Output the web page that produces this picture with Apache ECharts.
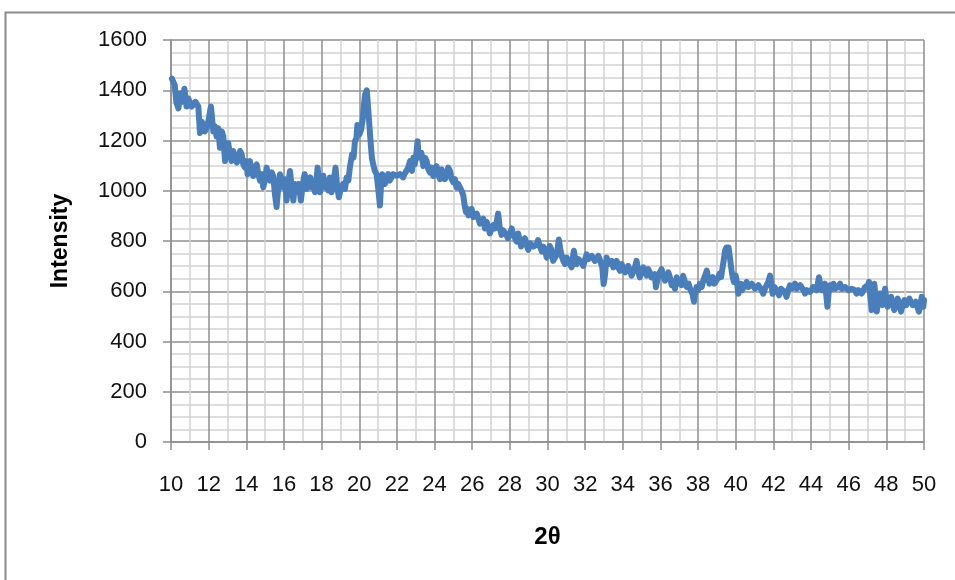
<!DOCTYPE html>
<html>
<head>
<meta charset="utf-8">
<script src="https://cdn.jsdelivr.net/npm/echarts@6/dist/echarts.min.js"></script>
<style>
  html, body { margin: 0; padding: 0; background: #ffffff; }
  #chart { width: 955px; height: 580px; }
</style>
</head>
<body>
<div id="chart"></div>
<script>
// XRD scan: diffraction angle 2θ (degrees) and counted intensity
const twoTheta = [
  10.05,10.12,10.2,10.28,10.39,10.5,10.6,10.71,10.83,10.92,11.01,11.1,11.19,11.3,11.45,11.54,11.63,11.72,11.8,11.89,
  12.0,12.12,12.25,12.33,12.42,12.51,12.6,12.7,12.78,12.87,12.95,13.04,13.13,13.22,13.31,13.4,13.5,13.58,13.67,13.75,
  13.84,13.93,14.0,14.07,14.19,14.28,14.37,14.46,14.55,14.64,14.73,14.82,14.9,15.0,15.08,15.17,15.26,15.35,15.43,15.52,
  15.61,15.7,15.79,15.88,15.96,16.05,16.14,16.23,16.32,16.41,16.5,16.58,16.67,16.78,16.9,17.0,17.1,17.2,17.3,17.4,
  17.47,17.56,17.65,17.72,17.79,17.91,18.0,18.09,18.18,18.27,18.36,18.44,18.53,18.62,18.74,18.83,18.92,19.03,19.15,19.24,
  19.33,19.42,19.5,19.62,19.7,19.77,19.85,19.9,20.0,20.1,20.18,20.25,20.3,20.4,20.45,20.5,20.6,20.67,20.74,20.83,
  20.92,21.0,21.1,21.16,21.22,21.3,21.36,21.45,21.54,21.62,21.7,21.8,21.9,22.0,22.07,22.16,22.25,22.33,22.4,22.5,
  22.6,22.7,22.8,22.88,22.95,23.03,23.1,23.16,23.23,23.3,23.4,23.5,23.58,23.67,23.76,23.85,23.93,24.02,24.1,24.2,
  24.29,24.38,24.46,24.55,24.64,24.73,24.82,24.91,25.0,25.08,25.17,25.26,25.35,25.44,25.53,25.6,25.67,25.73,25.8,25.88,
  25.97,26.06,26.15,26.24,26.32,26.41,26.5,26.59,26.68,26.77,26.85,26.94,27.03,27.12,27.2,27.3,27.38,27.47,27.56,27.64,
  27.73,27.82,27.9,28.0,28.1,28.18,28.27,28.36,28.44,28.52,28.6,28.7,28.8,28.89,28.98,29.06,29.15,29.24,29.33,29.42,
  29.5,29.6,29.7,29.78,29.87,29.96,30.04,30.12,30.2,30.3,30.4,30.5,30.6,30.68,30.75,30.84,30.93,31.02,31.1,31.19,
  31.28,31.35,31.4,31.48,31.55,31.64,31.73,31.82,31.9,32.0,32.08,32.17,32.26,32.35,32.43,32.52,32.6,32.7,32.79,32.86,
  32.91,32.98,33.05,33.14,33.23,33.32,33.41,33.5,33.58,33.67,33.76,33.85,33.94,34.03,34.12,34.2,34.29,34.38,34.47,34.56,
  34.64,34.73,34.82,34.9,35.0,35.09,35.18,35.27,35.35,35.44,35.53,35.62,35.7,35.76,35.88,35.97,36.06,36.15,36.24,36.33,
  36.42,36.5,36.6,36.68,36.77,36.86,36.95,37.04,37.12,37.2,37.3,37.4,37.5,37.6,37.7,37.78,37.85,37.92,38.0,38.1,
  38.19,38.28,38.37,38.46,38.53,38.6,38.68,38.77,38.86,38.95,39.04,39.13,39.22,39.3,39.37,39.43,39.5,39.55,39.62,39.7,
  39.78,39.84,39.9,40.0,40.07,40.14,40.2,40.26,40.33,40.4,40.49,40.58,40.67,40.76,40.85,40.93,41.02,41.1,41.2,41.29,
  41.38,41.46,41.55,41.64,41.73,41.82,41.89,41.96,42.05,42.14,42.22,42.3,42.4,42.5,42.6,42.7,42.79,42.88,42.97,43.05,
  43.15,43.24,43.33,43.42,43.5,43.6,43.68,43.77,43.86,43.95,44.04,44.12,44.2,44.3,44.42,44.5,44.57,44.66,44.74,44.8,
  44.87,44.93,45.0,45.1,45.19,45.28,45.36,45.45,45.54,45.63,45.72,45.81,45.9,45.98,46.07,46.16,46.25,46.33,46.42,46.51,
  46.6,46.69,46.78,46.87,46.96,47.02,47.08,47.15,47.22,47.29,47.36,47.43,47.49,47.57,47.66,47.72,47.79,47.86,47.93,48.0,
  48.07,48.16,48.25,48.33,48.42,48.51,48.6,48.69,48.78,48.87,48.96,49.05,49.13,49.22,49.3,49.4,49.49,49.56,49.63,49.73,
  49.8,49.88,49.96,50.0
];

const intensity = [
  1446,1440,1420,1354,1328,1387,1354,1406,1335,1367,1374,1335,1328,1354,1335,1230,1275,1262,1236,1249,
  1282,1335,1236,1256,1216,1249,1171,1236,1216,1118,1171,1190,1145,1118,1158,1151,1112,1125,1158,1145,
  1105,1092,1118,1066,1118,1079,1059,1092,1105,1066,1040,1066,1014,1046,1092,1053,1040,1073,1059,987,
  935,1014,1066,1040,1014,1046,961,1027,1079,1014,961,1027,1014,1027,961,1027,1066,1007,1027,1053,
  1014,1027,994,1040,1092,994,1027,1060,1014,1027,1001,1053,994,1027,1092,1014,974,1014,1027,1007,
  1053,1040,1092,1145,1132,1197,1210,1262,1223,1243,1282,1341,1380,1400,1393,1302,1197,1132,1105,1079,
  1066,1014,941,1027,1066,1053,1027,1046,1066,1040,1046,1066,1073,1060,1053,1066,1073,1053,1066,1079,
  1092,1118,1079,1132,1105,1145,1197,1132,1140,1151,1098,1131,1118,1085,1072,1092,1059,1085,1098,1066,
  1046,1085,1072,1046,1059,1092,1079,1046,1033,1046,1013,1027,1033,1000,980,941,915,928,902,915,
  928,895,889,909,902,869,876,889,850,876,869,830,837,863,850,876,909,850,824,843,
  850,824,811,830,850,824,811,798,830,804,778,798,811,785,765,791,798,778,771,785,
  804,778,758,778,761,734,747,780,767,721,734,747,806,767,741,721,708,734,728,708,
  695,734,761,721,708,728,734,714,701,728,747,728,721,741,747,721,714,741,734,708,
  695,629,662,734,708,701,721,695,708,721,695,681,708,695,675,675,701,695,662,668,
  695,721,681,655,675,695,675,662,688,675,655,648,668,616,662,668,688,662,642,655,
  675,656,624,637,610,656,630,643,624,662,637,617,630,604,590,558,597,617,604,630,
  617,643,637,682,656,630,643,656,630,637,650,669,656,695,728,761,774,781,774,728,
  682,656,637,662,630,590,610,630,604,610,624,637,617,610,630,624,610,604,624,617,
  604,590,610,624,637,662,630,590,617,610,597,584,610,617,597,578,604,624,610,604,
  630,610,604,624,617,604,591,604,610,597,604,617,624,604,656,624,604,617,630,591,
  538,591,624,610,630,610,604,617,630,610,604,617,624,604,597,610,617,604,591,604,
  610,591,597,617,610,624,637,578,525,591,630,578,519,565,591,565,545,584,610,571,
  538,565,578,552,525,552,571,545,519,545,565,545,552,571,565,545,538,558,552,519,
  545,578,538,565
];

// Axis settings
const xMin = 10, xMax = 50, xStep = 2;
const yMin = 0, yMax = 1600, yStep = 200;

const points = twoTheta.map((t, i) => [t, intensity[i]]);

const majorGrid = '#8f8f8f';
const minorGrid = '#d2d2d2';
const labelFont = 'Liberation Sans';

const chart = echarts.init(document.getElementById('chart'), null, { renderer: 'canvas' });

chart.setOption({
  animation: false,
  backgroundColor: '#ffffff',
  graphic: [{
    type: 'rect',
    left: 3,
    top: 10,
    shape: { width: 1000, height: 1000 },
    style: { fill: 'none', stroke: '#8a8a8a', lineWidth: 2 },
    silent: true
  }],
  grid: { left: 171, right: 31, top: 40, bottom: 138 },
  xAxis: {
    type: 'value',
    min: xMin, max: xMax, interval: xStep,
    name: '2θ',
    nameLocation: 'middle',
    nameGap: 83,
    nameTextStyle: { fontFamily: labelFont, fontWeight: 'bold', fontSize: 24, color: '#000' },
    axisLine: { show: true, lineStyle: { color: majorGrid, width: 1.5 } },
    axisTick: { show: true, inside: false, length: 8, lineStyle: { color: majorGrid, width: 1.5 } },
    axisLabel: { margin: 32, fontFamily: labelFont, fontSize: 22, color: '#111' },
    splitLine: { show: true, lineStyle: { color: majorGrid, width: 1.5 } },
    minorTick: { show: false, splitNumber: 2 },
    minorSplitLine: { show: true, lineStyle: { color: minorGrid, width: 1.5 } }
  },
  yAxis: {
    type: 'value',
    min: yMin, max: yMax, interval: yStep,
    name: 'Intensity',
    nameLocation: 'middle',
    nameGap: 99,
    nameTextStyle: { fontFamily: labelFont, fontWeight: 'bold', fontSize: 23, color: '#000' },
    axisLine: { show: true, lineStyle: { color: majorGrid, width: 1.5 } },
    axisTick: { show: true, inside: false, length: 8, lineStyle: { color: majorGrid, width: 1.5 } },
    axisLabel: {
      margin: 24, fontFamily: labelFont, fontSize: 22, color: '#111',
      formatter: v => String(v)
    },
    splitLine: { show: true, lineStyle: { color: majorGrid, width: 1.5 } },
    minorTick: { show: false, splitNumber: 4 },
    minorSplitLine: { show: true, lineStyle: { color: minorGrid, width: 1.5 } }
  },
  series: [{
    type: 'line',
    data: points,
    showSymbol: false,
    symbol: 'none',
    clip: true,
    lineStyle: { color: '#4a7ebb', width: 6, join: 'round', cap: 'round' },
    itemStyle: { color: '#4a7ebb' }
  }]
});
</script>
</body>
</html>
